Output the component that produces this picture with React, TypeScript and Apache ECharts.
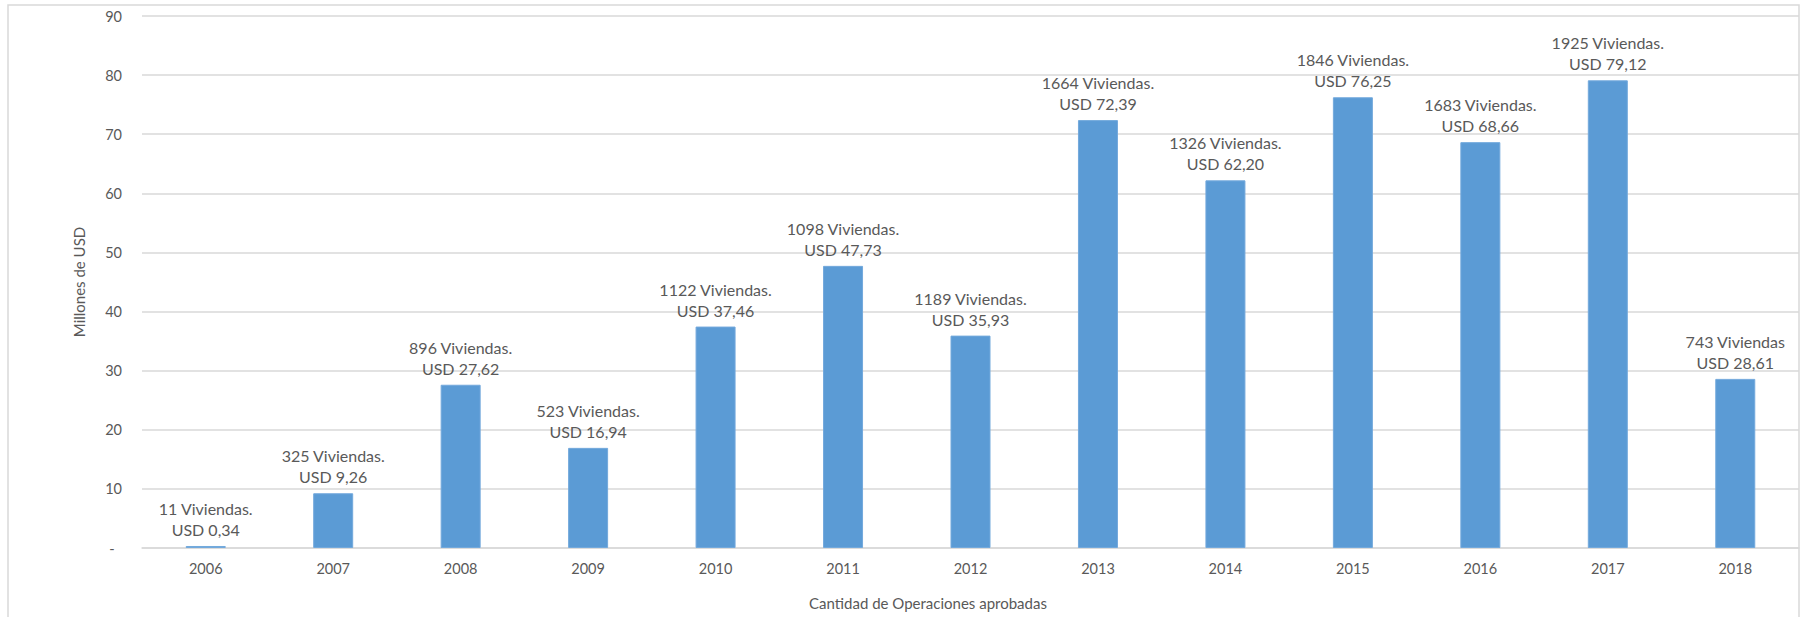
import React, { useEffect, useRef } from "react";
import * as echarts from "echarts";

const years = ["2006", "2007", "2008", "2009", "2010", "2011", "2012", "2013", "2014", "2015", "2016", "2017", "2018"];
const amounts = [0.34, 9.26, 27.62, 16.94, 37.46, 47.73, 35.93, 72.39, 62.2, 76.25, 68.66, 79.12, 28.61];
const viviendas = [11, 325, 896, 523, 1122, 1098, 1189, 1664, 1326, 1846, 1683, 1925, 743];
const viviendasSuffix = [".", ".", ".", ".", ".", ".", ".", ".", ".", ".", ".", ".", ""];
const yTicks = { min: 0, max: 90, interval: 10 };
const yName = "Millones de USD";
const xName = "Cantidad de Operaciones aprobadas";

const FONT = "Lato";
const TXT = "#595959";

export default function App() {
  const ref = useRef<HTMLDivElement>(null);
  useEffect(() => {
    const chart = echarts.init(ref.current!, undefined, { renderer: "svg" });
    chart.setOption({
      animation: false,
      backgroundColor: "#ffffff",
      grid: { left: 142, right: 5, top: 16, bottom: 69, containLabel: false },
      graphic: [
        {
          type: "rect",
          shape: { x: 8, y: 5, width: 1791, height: 640 },
          style: { fill: "none", stroke: "#d9d9d9", lineWidth: 1.5 },
          silent: true,
          z: -1,
        },
        {
          type: "text",
          x: 928,
          y: 603,
          style: {
            text: xName,
            fill: TXT,
            font: `15px ${FONT}`,
            textAlign: "center",
            textVerticalAlign: "middle",
          },
        },
      ],
      xAxis: {
        type: "category",
        data: years,
        axisLine: { show: true, lineStyle: { color: "#d9d9d9", width: 1.5 } },
        axisTick: { show: false },
        axisLabel: { color: TXT, fontFamily: FONT, fontSize: 14.5, margin: 13 },
      },
      yAxis: {
        type: "value",
        min: yTicks.min,
        max: yTicks.max,
        interval: yTicks.interval,
        name: yName,
        nameLocation: "middle",
        nameRotate: 90,
        nameGap: 56,
        nameTextStyle: { color: TXT, fontFamily: FONT, fontSize: 15 },
        axisLine: { show: false },
        axisTick: { show: false },
        splitLine: { lineStyle: { color: "#d9d9d9", width: 1.5 } },
        axisLabel: {
          color: TXT,
          fontFamily: FONT,
          fontSize: 14.5,
          margin: 20,
          formatter: (v: number) => (v === 0 ? "-\u2002" : String(v)),
        },
      },
      series: [
        {
          type: "bar",
          data: amounts,
          barWidth: 40,
          itemStyle: { color: "#5b9bd5", borderColor: "#73a9dc", borderWidth: 1 },
          label: {
            show: true,
            position: "top",
            distance: 6,
            color: TXT,
            fontFamily: FONT,
            fontSize: 16,
            lineHeight: 21,
            align: "center",
            formatter: (p: any) =>
              `${viviendas[p.dataIndex]} Viviendas${viviendasSuffix[p.dataIndex]}\nUSD ${amounts[p.dataIndex]
                .toFixed(2)
                .replace(".", ",")}`,
          },
        },
      ],
    });
    return () => chart.dispose();
  }, []);
  return (
    <div
      ref={ref}
      style={{ position: "absolute", left: 0, top: 0, width: 1804, height: 617 }}
    />
  );
}
